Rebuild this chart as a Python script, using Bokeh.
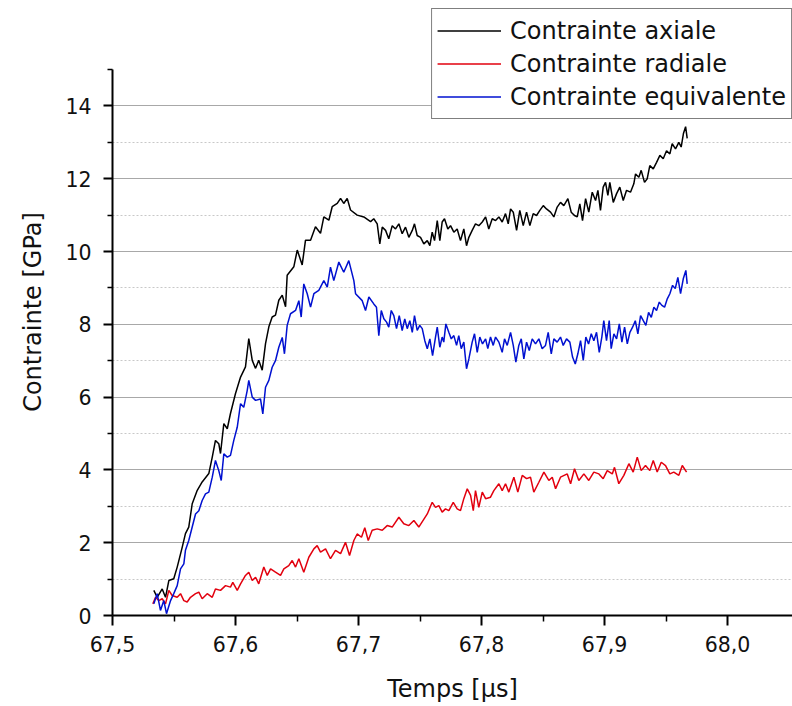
from bokeh.plotting import figure
from bokeh.models import Range1d, FixedTicker, CustomJSTickFormatter, Legend, LegendItem
from bokeh.embed import file_html
from bokeh.resources import INLINE

# ---------------- data ----------------
series_names = ["Contrainte axiale", "Contrainte radiale", "Contrainte equivalente"]

t_axiale = [67.5336, 67.5363, 67.5404, 67.5431, 67.5458, 67.5498, 67.5526, 67.5567, 67.5593, 67.5620,
            67.5648, 67.5689, 67.5729, 67.5783, 67.5811, 67.5837, 67.5864, 67.5878, 67.5905, 67.5933,
            67.5959, 67.6000, 67.6041, 67.6081, 67.6108, 67.6136, 67.6163, 67.6189, 67.6217, 67.6244,
            67.6271, 67.6298, 67.6325, 67.6352, 67.6380, 67.6407, 67.6420, 67.6474, 67.6502, 67.6542,
            67.6569, 67.6610, 67.6650, 67.6691, 67.6718, 67.6759, 67.6786, 67.6827, 67.6854, 67.6880,
            67.6908, 67.6935, 67.6989, 67.7043, 67.7098,
            67.7124, 67.7152, 67.7173, 67.7193, 67.7220, 67.7246, 67.7274, 67.7301, 67.7328, 67.7355,
            67.7382, 67.7409, 67.7437, 67.7455, 67.7477, 67.7504, 67.7531, 67.7559, 67.7580, 67.7599,
            67.7618, 67.7640, 67.7661, 67.7680, 67.7699, 67.7726, 67.7748, 67.7775, 67.7802, 67.7829,
            67.7856, 67.7878, 67.7897, 67.7924, 67.7951, 67.7978, 67.8006, 67.8033, 67.8059, 67.8087,
            67.8114, 67.8141, 67.8168, 67.8195, 67.8217, 67.8236, 67.8258, 67.8285, 67.8311, 67.8339,
            67.8366, 67.8393, 67.8420, 67.8447, 67.8474, 67.8502, 67.8528, 67.8561, 67.8588, 67.8615,
            67.8642, 67.8669, 67.8702, 67.8729, 67.8756, 67.8778, 67.8799, 67.8821, 67.8846, 67.8872,
            67.8900, 67.8927, 67.8946, 67.8967, 67.8989, 67.9008, 67.9027, 67.9043, 67.9071, 67.9098,
            67.9124, 67.9152, 67.9179, 67.9211, 67.9238, 67.9252, 67.9279, 67.9298, 67.9325, 67.9347,
            67.9368, 67.9396, 67.9423, 67.9450, 67.9477, 67.9504, 67.9531, 67.9550, 67.9577, 67.9604,
            67.9623, 67.9642, 67.9659, 67.9672]
v_axiale = [0.69, 0.50, 0.73, 0.50, 0.96, 1.01, 1.33, 1.88, 2.25, 2.43,
            3.07, 3.44, 3.67, 3.90, 4.35, 4.81, 4.72, 4.45, 5.27, 5.13,
            5.55, 6.10, 6.55, 6.83, 7.61, 7.01, 6.79, 7.01, 6.74, 7.47,
            7.93, 8.20, 8.25, 8.66, 8.80, 8.48, 9.35, 9.58, 10.04, 9.63,
            10.31, 10.31, 10.68, 10.50, 10.95, 10.86, 11.23, 11.32, 11.46, 11.32,
            11.46, 11.14, 11.00, 10.95, 10.82,
            10.90, 10.76, 10.21, 10.67, 10.58, 10.35, 10.71, 10.62, 10.76, 10.49,
            10.67, 10.39, 10.58, 10.76, 10.44, 10.39, 10.21, 10.30, 10.16, 10.53,
            10.30, 10.85, 10.30, 10.81, 10.90, 10.62, 10.71, 10.53, 10.62, 10.30,
            10.62, 10.16, 10.39, 10.58, 10.76, 10.71, 10.81, 10.95, 10.62, 10.90,
            10.85, 10.95, 10.81, 11.04, 10.76, 11.17, 11.08, 10.58, 11.13, 10.71,
            11.08, 10.71, 11.04, 10.99, 11.13, 11.26, 11.17, 11.08, 10.95, 11.22,
            11.35, 11.26, 11.45, 11.08, 10.99, 10.95, 11.31, 10.85, 11.45, 11.08,
            11.63, 11.40, 11.68, 11.13, 11.77, 11.90, 11.54, 11.90, 11.35, 11.59,
            11.77, 11.40, 11.68, 11.63, 11.86, 12.13, 12.04, 12.23, 11.90, 12.00,
            12.36, 12.27, 12.45, 12.64, 12.55, 12.77, 12.68, 12.96, 12.82, 13.00,
            12.87, 13.25, 13.43, 13.11]

t_radiale = [67.5328, 67.5350, 67.5376, 67.5404, 67.5431, 67.5458, 67.5485, 67.5526, 67.5553, 67.5580,
             67.5607, 67.5634, 67.5675, 67.5702, 67.5729, 67.5770, 67.5811, 67.5837, 67.5878, 67.5919,
             67.5959, 67.5978, 67.6014, 67.6041, 67.6081, 67.6108, 67.6136, 67.6163, 67.6189, 67.6230,
             67.6258, 67.6285, 67.6325, 67.6366, 67.6393, 67.6433, 67.6461, 67.6488, 67.6515, 67.6555,
             67.6596, 67.6637, 67.6664, 67.6691, 67.6732, 67.6772, 67.6813, 67.6854, 67.6894, 67.6927,
             67.6962, 67.6989, 67.7024, 67.7051, 67.7079, 67.7111, 67.7152, 67.7193, 67.7233, 67.7274,
             67.7328, 67.7368, 67.7409, 67.7450, 67.7490, 67.7559, 67.7599, 67.7626, 67.7653, 67.7680,
             67.7707, 67.7734, 67.7770, 67.7802, 67.7829, 67.7856, 67.7884, 67.7911, 67.7933, 67.7951,
             67.7978, 67.8006, 67.8033, 67.8073, 67.8100, 67.8141, 67.8168, 67.8195, 67.8222, 67.8263,
             67.8295, 67.8331, 67.8366, 67.8398, 67.8425, 67.8466, 67.8507, 67.8547, 67.8575, 67.8602,
             67.8642, 67.8697, 67.8724, 67.8756, 67.8791, 67.8832, 67.8872, 67.8913, 67.8954, 67.8989,
             67.9022, 67.9063, 67.9081, 67.9116, 67.9157, 67.9198, 67.9233, 67.9266, 67.9298, 67.9333,
             67.9368, 67.9396, 67.9428, 67.9461, 67.9496, 67.9531, 67.9563, 67.9604, 67.9632, 67.9667]
v_radiale = [0.32, 0.50, 0.41, 0.46, 0.32, 0.69, 0.55, 0.50, 0.60, 0.41,
             0.37, 0.50, 0.60, 0.64, 0.46, 0.60, 0.50, 0.73, 0.69, 0.82,
             0.78, 0.91, 0.69, 0.87, 1.10, 1.19, 0.96, 1.05, 0.87, 1.33,
             1.10, 1.28, 1.19, 1.10, 1.28, 1.37, 1.51, 1.33, 1.56, 1.19,
             1.60, 1.83, 1.92, 1.74, 1.83, 1.56, 1.79, 1.70, 2.01, 1.65,
             2.06, 2.24, 2.15, 2.41, 2.06, 2.34, 2.38, 2.34, 2.47, 2.43,
             2.70, 2.52, 2.47, 2.61, 2.43, 2.79, 3.11, 2.97, 3.02, 2.84,
             2.93, 2.88, 3.11, 2.93, 2.88, 3.21, 3.48, 3.30, 2.88, 3.43,
             2.97, 3.39, 3.21, 3.25, 3.43, 3.62, 3.43, 3.62, 3.39, 3.80,
             3.39, 3.85, 3.76, 3.80, 3.39, 3.66, 3.94, 3.71, 3.80, 3.48,
             3.80, 3.89, 3.62, 4.03, 3.71, 3.89, 3.71, 3.94, 3.89, 3.76,
             3.98, 3.89, 4.07, 3.62, 3.85, 4.17, 3.94, 4.35, 3.98, 4.12,
             3.98, 4.26, 3.94, 4.21, 4.12, 3.89, 3.94, 3.85, 4.12, 3.94]

t_equiv = [67.5336, 67.5363, 67.5390, 67.5417, 67.5439, 67.5472, 67.5498, 67.5526, 67.5553, 67.5580,
           67.5593, 67.5620, 67.5648, 67.5675, 67.5702, 67.5729, 67.5756, 67.5783, 67.5811, 67.5837,
           67.5864, 67.5884, 67.5905, 67.5933, 67.5959, 67.5986, 67.6014, 67.6041, 67.6067, 67.6095,
           67.6108, 67.6136, 67.6163, 67.6203, 67.6222, 67.6244, 67.6271, 67.6298, 67.6325, 67.6352,
           67.6380, 67.6398, 67.6420, 67.6447, 67.6488, 67.6515, 67.6534, 67.6555, 67.6583, 67.6610,
           67.6637, 67.6677, 67.6718, 67.6746, 67.6772, 67.6799, 67.6840, 67.6880, 67.6921, 67.6962,
           67.6976, 67.7030, 67.7057, 67.7084,
           67.7124, 67.7146, 67.7165, 67.7185, 67.7206, 67.7228, 67.7246, 67.7266, 67.7287, 67.7309,
           67.7331, 67.7355, 67.7376, 67.7396, 67.7417, 67.7437, 67.7455, 67.7477, 67.7498, 67.7518,
           67.7539, 67.7559, 67.7580, 67.7602, 67.7626, 67.7640, 67.7661, 67.7680, 67.7693, 67.7710,
           67.7734, 67.7754, 67.7775, 67.7797, 67.7815, 67.7835, 67.7856, 67.7878, 67.7897, 67.7924,
           67.7943, 67.7965, 67.7986, 67.8008, 67.8033, 67.8051, 67.8073, 67.8095, 67.8114, 67.8141,
           67.8168, 67.8187, 67.8209, 67.8236, 67.8258, 67.8279, 67.8303, 67.8323, 67.8344, 67.8366,
           67.8388, 67.8412, 67.8439, 67.8466, 67.8493, 67.8520, 67.8542, 67.8567, 67.8588, 67.8615,
           67.8642, 67.8664, 67.8691, 67.8718, 67.8740, 67.8762, 67.8783, 67.8805, 67.8827, 67.8848,
           67.8870, 67.8892, 67.8913, 67.8935, 67.8957, 67.8978, 67.8994, 67.9016, 67.9038, 67.9054,
           67.9076, 67.9098, 67.9120, 67.9141, 67.9163, 67.9185, 67.9206, 67.9228, 67.9250, 67.9271,
           67.9293, 67.9315, 67.9336, 67.9358, 67.9380, 67.9401, 67.9423, 67.9445, 67.9466, 67.9488,
           67.9510, 67.9531, 67.9553, 67.9575, 67.9596, 67.9618, 67.9640, 67.9661, 67.9672]
v_equiv = [0.32, 0.60, 0.14, 0.41, 0.05, 0.41, 0.60, 0.82, 1.28, 1.42,
           1.79, 2.06, 2.43, 2.79, 2.88, 3.16, 3.34, 3.39, 3.80, 4.26,
           3.98, 3.71, 4.44, 4.35, 4.40, 4.81, 5.17, 5.82, 5.72, 6.18,
           6.46, 6.00, 5.91, 5.95, 5.54, 6.27, 6.46, 6.82, 7.00, 7.37,
           7.64, 7.19, 7.97, 8.29, 8.38, 8.65, 8.20, 9.11, 8.84, 8.47,
           8.84, 8.93, 9.20, 9.02, 9.57, 9.20, 9.71, 9.43, 9.75, 9.20,
           8.84, 8.65, 8.38, 8.75,
           8.56, 8.47, 7.69, 8.38, 8.15, 8.06, 7.92, 8.38, 8.24, 7.88,
           8.24, 7.83, 8.15, 7.88, 8.10, 7.78, 8.24, 7.83, 7.97, 7.88,
           7.55, 7.33, 7.60, 7.14, 7.65, 7.92, 7.37, 7.65, 7.51, 8.01,
           7.78, 7.60, 7.69, 7.42, 7.69, 7.33, 7.51, 6.78, 7.05, 7.51,
           7.74, 7.23, 7.65, 7.46, 7.60, 7.33, 7.65, 7.42, 7.65, 7.51,
           7.23, 7.60, 7.42, 7.78, 7.42, 6.96, 7.42, 7.60, 7.05, 7.51,
           7.28, 7.60, 7.46, 7.60, 7.33, 7.42, 7.78, 7.19, 7.60, 7.51,
           7.65, 7.42, 7.60, 7.51, 7.10, 6.91, 7.19, 7.55, 7.01, 7.65,
           7.46, 7.74, 7.55, 7.78, 7.23, 7.65, 8.10, 7.55, 8.10, 7.33,
           7.74, 7.60, 8.01, 7.51, 7.92, 7.46, 7.78, 7.92, 8.10, 7.74,
           8.24, 8.10, 7.97, 8.33, 8.19, 8.47, 8.38, 8.61, 8.52, 8.47,
           8.70, 8.84, 9.07, 8.98, 9.29, 8.84, 9.25, 9.48, 9.11]

x_major_ticks = [67.5, 67.6, 67.7, 67.8, 67.9, 68.0]
x_minor_ticks = [67.55, 67.65, 67.75, 67.85, 67.95]
y_major_ticks = [0, 2, 4, 6, 8, 10, 12, 14]
y_minor_ticks = [1, 3, 5, 7, 9, 11, 13, 15]
y_grid_minor = [1, 3, 5, 7, 9, 11, 13]

FONT = "DejaVu Sans"

p = figure(width=792, height=706, output_backend="svg", toolbar_location=None,
           x_range=Range1d(67.5, 68.0528), y_range=Range1d(0, 16.676),
           min_border_left=112, min_border_right=0, min_border_top=8, min_border_bottom=91)
p.outline_line_color = None
p.background_fill_color = "white"
p.border_fill_color = "white"

# grid
p.xgrid.visible = False
p.ygrid.ticker = FixedTicker(ticks=y_major_ticks, minor_ticks=y_grid_minor)
p.ygrid.grid_line_color = "#a8a8a8"
p.ygrid.grid_line_width = 1.2
p.ygrid.minor_grid_line_color = "#c8c8c8"
p.ygrid.minor_grid_line_dash = "2 2"
p.ygrid.minor_grid_line_width = 1

# axes
xa = p.xaxis[0]
xa.ticker = FixedTicker(ticks=x_major_ticks, minor_ticks=x_minor_ticks)
xa.formatter = CustomJSTickFormatter(code="return tick.toFixed(1).replace('.', ',');")
ya = p.yaxis[0]
ya.ticker = FixedTicker(ticks=y_major_ticks, minor_ticks=y_minor_ticks)
ya.formatter = CustomJSTickFormatter(code="return tick.toFixed(0);")
ya.bounds = (0, 15)

for ax in (xa, ya):
    ax.axis_line_color = "black"
    ax.axis_line_width = 2
    ax.major_tick_line_color = "black"
    ax.major_tick_line_width = 2
    ax.minor_tick_line_color = "black"
    ax.minor_tick_line_width = 1.5
    ax.major_tick_in = 0
    ax.minor_tick_in = 0
    ax.major_label_text_font = FONT
    ax.major_label_text_font_size = "20.5px"
    ax.major_label_text_color = "#111111"
    ax.axis_label_text_font = FONT
    ax.axis_label_text_font_size = "24px"
    ax.axis_label_text_font_style = "normal"
    ax.axis_label_text_color = "#111111"

xa.major_tick_out = 10
xa.minor_tick_out = 6
xa.major_label_standoff = 10
xa.axis_label = "Temps [µs]"
xa.axis_label_standoff = 20

ya.major_tick_out = 9
ya.minor_tick_out = 5
ya.major_label_standoff = 12
ya.axis_label = "Contrainte [GPa]"
ya.axis_label_standoff = 15

r_ax = p.line(t_axiale, v_axiale, line_color="#000000", line_width=1.5)
r_rad = p.line(t_radiale, v_radiale, line_color="#e2000e", line_width=1.5)
r_eq = p.line(t_equiv, v_equiv, line_color="#0010d0", line_width=1.5)

legend = Legend(items=[LegendItem(label=series_names[0], renderers=[r_ax]),
                       LegendItem(label=series_names[1], renderers=[r_rad]),
                       LegendItem(label=series_names[2], renderers=[r_eq])],
                location="top_right")
legend.margin = 0
legend.padding = 5
legend.spacing = 0
legend.glyph_width = 64
legend.glyph_height = 33
legend.label_height = 33
legend.label_standoff = 9
legend.label_text_font = FONT
legend.label_text_font_size = "24px"
legend.label_text_color = "#111111"
legend.border_line_color = "black"
legend.border_line_width = 1.2
legend.background_fill_color = "white"
legend.background_fill_alpha = 1.0
p.add_layout(legend, "center")

open("out.html", "w").write(file_html(p, INLINE))
